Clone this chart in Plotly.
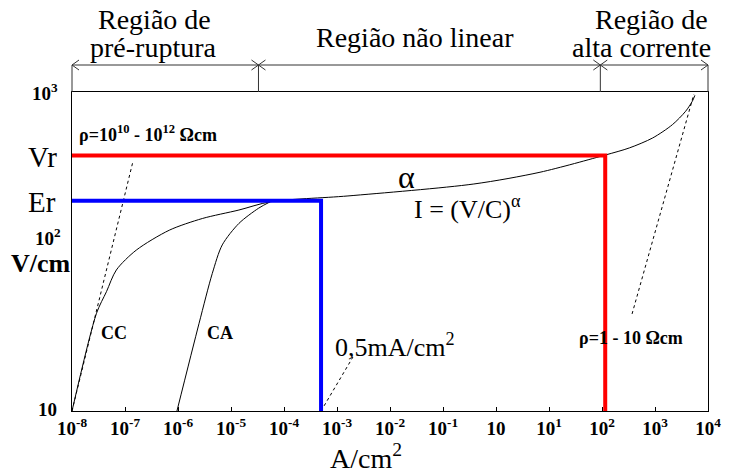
import math
import plotly.graph_objects as go

# ---------------- data ----------------
# main E-J curve (CC curve continuing through non-linear and high-current regions)
main_j = [1e-8, 2.90e-8, 4.47e-8, 6.87e-8, 1.63e-7, 6.85e-7, 2.88e-6, 1.41e-5, 5.5e-5,
          1.61e-3, 0.382, 6.76, 117, 328, 902, 2130, 3780, 5060, 5660]
main_e = [10, 41.0, 56.0, 76.6, 102, 136, 161, 182, 205,
          223, 265, 314, 403, 446, 515, 624, 757, 875, 953]
# CA curve
ca_j = [9.55e-7, 2.50e-6, 4.44e-6, 6.84e-6, 1.41e-5, 3.33e-5, 5.5e-5]
ca_e = [10, 35.5, 72.9, 110, 150, 187, 205]
# dotted guide lines
ohm_hi_j = [1e-8, 1.39e-7]
ohm_hi_e = [10, 359]
ohm_lo_j = [369, 5420]
ohm_lo_e = [40.6, 970]
ma_j = [5.0e-4, 2.0e-3]
ma_e = [10, 21.8]
# reference levels
Vr = 400
Er = 208
J_vr = 115
J_er = 5.0e-4
# region boundaries (A/cm2)
region_bounds = [3.3e-5, 93]
# tick labels
x_tickvals = [1e-8, 1e-7, 1e-6, 1e-5, 1e-4, 1e-3, 1e-2, 1e-1, 1, 10, 100, 1e3, 1e4]
x_ticktext = ["10<sup>-8</sup>", "10<sup>-7</sup>", "10<sup>-6</sup>", "10<sup>-5</sup>",
              "10<sup>-4</sup>", "10<sup>-3</sup>", "10<sup>-2</sup>", "10<sup>-1</sup>",
              "10", "10<sup>1</sup>", "10<sup>2</sup>", "10<sup>3</sup>", "10<sup>4</sup>"]

# ---------------- figure ----------------
OFF = 8  # page body margin
W, H = 733 - OFF, 473 - OFF
L, R, T, B = 72 - OFF, 21, 92 - OFF, 62
PW, PH = W - L - R, H - T - B
PLOT_LEFT, PLOT_BOTTOM = 72, 411  # page pixels
SERIF = "Liberation Serif, Times New Roman, serif"


def px_x(px):
    return (px - PLOT_LEFT) / PW


def px_y(py):
    return (PLOT_BOTTOM - py) / PH


fig = go.Figure()
fig.add_trace(go.Scatter(x=main_j, y=main_e, mode="lines",
                         line=dict(color="black", width=1, shape="spline", smoothing=0.8)))
fig.add_trace(go.Scatter(x=ca_j, y=ca_e, mode="lines",
                         line=dict(color="black", width=1, shape="spline", smoothing=0.8)))
for xs, ys in [(ohm_hi_j, ohm_hi_e), (ohm_lo_j, ohm_lo_e), (ma_j, ma_e)]:
    fig.add_trace(go.Scatter(x=xs, y=ys, mode="lines",
                             line=dict(color="black", width=1, dash="dot")))
fig.add_trace(go.Scatter(x=[1e-8, J_er, J_er], y=[Er, Er, 10], mode="lines",
                         line=dict(color="#0000ff", width=4)))
fig.add_trace(go.Scatter(x=[1e-8, J_vr, J_vr], y=[Vr, Vr, 10], mode="lines",
                         line=dict(color="#ff0000", width=4)))

# ---------------- dimension line on top ----------------
ydim = px_y(65)
dcol = "#333333"
shapes = [
    dict(type="line", xref="paper", yref="paper", x0=0, x1=1, y0=ydim, y1=ydim,
         line=dict(color=dcol, width=1)),
    dict(type="line", xref="paper", yref="paper", x0=0, x1=0, y0=1, y1=ydim,
         line=dict(color=dcol, width=1)),
    dict(type="line", xref="paper", yref="paper", x0=1, x1=1, y0=1, y1=ydim,
         line=dict(color=dcol, width=1)),
]
bx = [(math.log10(b) + 8) / 12 for b in region_bounds]
for b in bx:
    shapes.append(dict(type="line", xref="paper", yref="paper", x0=b, x1=b, y0=1, y1=ydim,
                       line=dict(color=dcol, width=1)))


def head(xa, direction):
    # direction +1: arrow points right (wings to the left); -1: points left
    out = []
    for dy in (5, -5):
        out.append(dict(type="line", xref="paper", yref="paper",
                        xsizemode="pixel", xanchor=xa, x0=0, x1=-7 * direction,
                        ysizemode="pixel", yanchor=ydim, y0=0, y1=dy,
                        line=dict(color=dcol, width=1)))
    return out


shapes += head(0, -1)
shapes += head(1, 1)
for b in bx:
    shapes += head(b, 1)
    shapes += head(b, -1)

# ---------------- annotations ----------------
ann = []


def txt(t, px, py, size, bold=False):
    if bold:
        t = "<b>" + t + "</b>"
    ann.append(dict(text=t, xref="paper", yref="paper", x=px_x(px), y=px_y(py),
                    xanchor="center", yanchor="middle", showarrow=False,
                    font=dict(family=SERIF, size=size, color="black")))


txt("Região de", 155, 20, 28)
txt("pré-ruptura", 154, 47, 28)
txt("Região não linear", 417, 37, 28)
txt("Região de", 655, 20, 28)
txt("alta corrente", 645, 47, 28)

txt("10<sup>3</sup>", 45, 92, 19, True)
txt("Vr", 42, 157, 29)
txt("Er", 42, 202, 29)
txt("10<sup>2</sup>", 48, 237, 19, True)
txt("V/cm", 41, 263, 26, True)
txt("10", 47, 409, 19, True)

txt("A/cm<sup>2</sup>", 368, 456, 28)
txt("ρ=10<sup>10</sup> - 10<sup>12</sup> Ωcm", 148, 133, 18, True)
txt("CC", 114, 333, 18, True)
txt("CA", 221, 333, 18, True)
txt("α", 409, 177, 32)
txt("I = (V/C)<sup>α</sup>", 470, 207, 26)
txt("0,5mA/cm<sup>2</sup>", 397, 345, 26)
txt("ρ=1 - 10 Ωcm", 635, 338, 18, True)

fig.update_layout(
    width=W, height=H,
    margin=dict(l=L, r=R, t=T, b=B),
    paper_bgcolor="white", plot_bgcolor="white",
    showlegend=False,
    shapes=shapes,
    annotations=ann,
    font=dict(family=SERIF, color="black"),
    xaxis=dict(type="log", range=[-8, 4], tickvals=x_tickvals, ticktext=x_ticktext,
               ticks="inside", ticklen=4, tickcolor="black", tickwidth=1,
               tickfont=dict(family=SERIF, size=19, color="black", weight="bold"),
               showline=True, linecolor="black", linewidth=1, mirror=True,
               showgrid=False, zeroline=False),
    yaxis=dict(type="log", range=[1, 3], showticklabels=False, ticks="",
               showline=True, linecolor="black", linewidth=1, mirror=True,
               showgrid=False, zeroline=False),
)

fig.write_html("out.html")
